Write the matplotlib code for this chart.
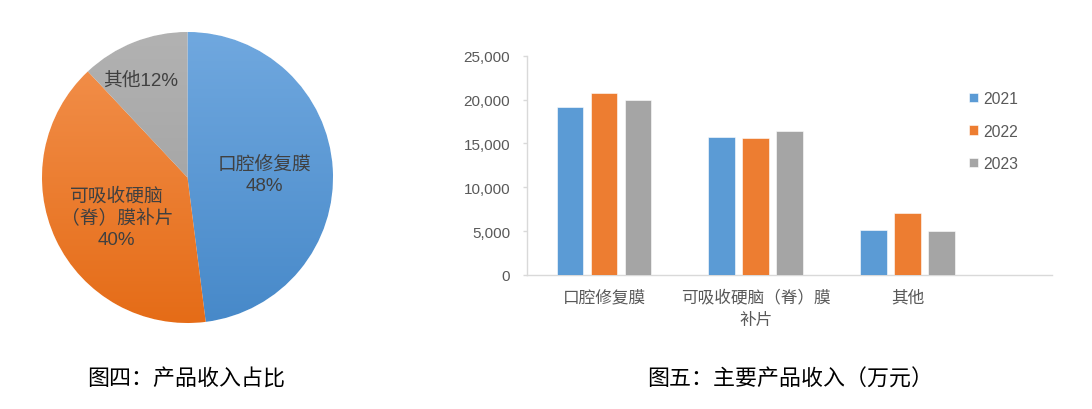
import matplotlib
matplotlib.use("Agg")
import matplotlib.pyplot as plt
import numpy as np
from matplotlib.colors import LinearSegmentedColormap

plt.rcParams['font.family'] = ['Liberation Sans', 'Noto Sans CJK SC', 'DejaVu Sans']

# ---- data ----
pie_labels = ["口腔修复膜", "可吸收硬脑\n（脊）膜补片", "其他"]
pie_shares = [48, 40, 12]
categories = ["口腔修复膜", "可吸收硬脑（脊）膜\n补片", "其他"]
years = ["2021", "2022", "2023"]
rev_2021 = [19110, 15770, 5090]
rev_2022 = [20710, 15620, 7070]
rev_2023 = [19910, 16410, 4980]
y_ticks = [0, 5000, 10000, 15000, 20000, 25000]
caption_left = "图四：产品收入占比"
caption_right = "图五：主要产品收入（万元）"

W, H = 1092, 410
fig = plt.figure(figsize=(W / 100, H / 100), dpi=100)
fig.patch.set_facecolor("white")

# ---- pie ----
cx, cy, r = 187.5, 178.5, 145.5
axp = fig.add_axes([(cx - r) / W, 1 - (cy + r) / H, 2 * r / W, 2 * r / H])
flat_cols = ["#5B9BD5", "#ED7D31", "#A5A5A5"]
grad_cols = [("#70A8DF", "#4789C9"), ("#F3924F", "#E56C17"), ("#B2B2B2", "#9C9C9C")]
wedges, _ = axp.pie(pie_shares, colors=flat_cols, startangle=90, counterclock=False,
                    radius=1, wedgeprops=dict(edgecolor="white", linewidth=0.8))
grad = np.linspace(1, 0, 256).reshape(-1, 1)
for w, (top, bot) in zip(wedges, grad_cols):
    cmap = LinearSegmentedColormap.from_list("g", [bot, top])
    im = axp.imshow(grad, cmap=cmap, extent=[-1, 1, -1, 1], origin="upper",
                    aspect="auto", zorder=w.get_zorder() + 0.1, vmin=0, vmax=1)
    im.set_clip_path(w)
axp.set_xlim(-1, 1)
axp.set_ylim(-1, 1)
axp.set_aspect("auto")
axp.axis("off")

txt_col = "#404040"
pie_pos = [(0.531, 0.02), (-0.486, -0.274), (-0.325, 0.671)]
for i, (lab, sh) in enumerate(zip(pie_labels, pie_shares)):
    if i == 2:
        s = f"{lab}{sh}%"
    else:
        s = f"{lab}\n{sh}%"
    axp.text(pie_pos[i][0], pie_pos[i][1], s, ha="center", va="center",
             fontsize=13.5, color=txt_col, linespacing=1.3, zorder=10)

# ---- bar chart ----
axb = fig.add_axes([527 / W, (410 - 276) / H, 525 / W, (276 - 56.7) / H])
x = np.arange(len(categories))
bw = 0.175
off = 0.224
series = [rev_2021, rev_2022, rev_2023]
for k, (yr, vals, col) in enumerate(zip(years, series, flat_cols)):
    axb.bar(x + (k - 1) * off, vals, width=bw, color=col, label=yr,
            edgecolor="white", linewidth=0.4, zorder=3)
axb.set_xlim(-0.507, 2.952)
axb.set_ylim(0, 25000)
axb.set_yticks(y_ticks)
axb.set_yticklabels([f"{v:,}" for v in y_ticks])
axb.set_xticks(x)
axb.set_xticklabels(categories, linespacing=1.6)
for s in ["top", "right"]:
    axb.spines[s].set_visible(False)
for s in ["left", "bottom"]:
    axb.spines[s].set_color("#D9D9D9")
    axb.spines[s].set_linewidth(1.0)
axb.tick_params(axis="y", colors="#D9D9D9", labelcolor="#595959", labelsize=11,
                length=3, width=1, pad=9)
axb.tick_params(axis="x", length=0, labelcolor="#595959", labelsize=12, pad=10)

leg = axb.legend(loc="upper left", bbox_to_anchor=(969 / W, 1 - 92 / H),
                 bbox_transform=fig.transFigure, frameon=False, fontsize=11.3,
                 handlelength=0.55, handleheight=0.55, handletextpad=0.35,
                 labelspacing=1.12, borderpad=0, borderaxespad=0)
for t in leg.get_texts():
    t.set_color("#595959")

# ---- captions ----
fig.text(87 / W, 1 - 380 / H, caption_left, ha="left", va="center",
         fontsize=15.8, color="black", family=["Noto Sans CJK SC", "DejaVu Sans"])
fig.text(647 / W, 1 - 380 / H, caption_right, ha="left", va="center",
         fontsize=15.8, color="black", family=["Noto Sans CJK SC", "DejaVu Sans"])

fig.savefig("out.png", dpi=100, facecolor="white")
